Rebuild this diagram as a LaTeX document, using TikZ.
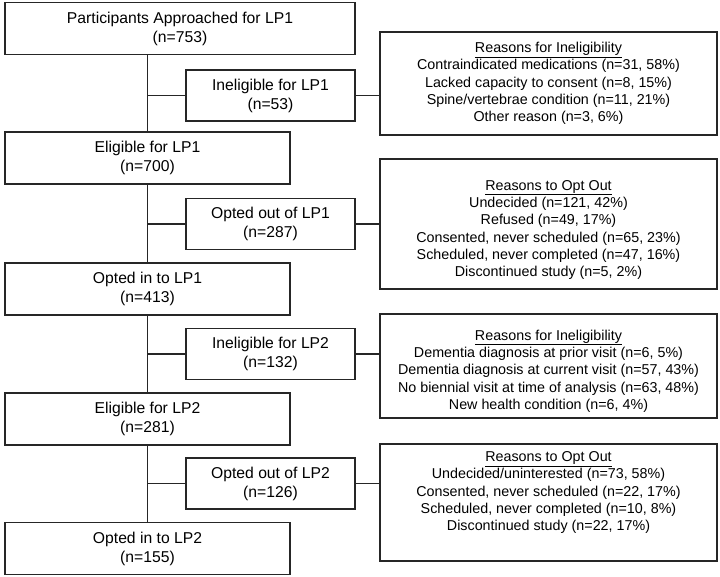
\documentclass[tikz,border=0pt]{standalone}
\usepackage{fontspec}
\setmainfont{Liberation Sans}
\begin{document}
\begin{tikzpicture}[x=1pt,y=-1pt,
		box/.style={draw=black!85, line width=1.1pt, align=center, inner sep=0pt, font=\fontsize{15.7}{19}\selectfont},
		flow/.style={box, minimum width=285pt, minimum height=52pt},
		side/.style={box, minimum width=169pt, minimum height=51pt},
		why/.style={box, minimum width=337pt},
		reasons/.style={align=center, inner sep=0pt, font=\fontsize{14.3}{17.3}\selectfont},
		link/.style={draw=black!85, line width=1.1pt}]
		\useasboundingbox (0,0) rectangle (720,577);
		% main flow
		\node[flow, minimum width=350pt] (appr) at (180,28.5) {Participants Approached for LP1\\(n=753)};
		\node[flow] (elig1) at (147.5,158) {Eligible for LP1\\(n=700)};
		\node[flow] (optin1) at (147.5,289) {Opted in to LP1\\(n=413)};
		\node[flow] (elig2) at (147.5,419) {Eligible for LP2\\(n=281)};
		\node[flow] (optin2) at (147.5,548.5) {Opted in to LP2\\(n=155)};
		% exclusions
		\node[side] (inel1) at (270.5,95.5) {Ineligible for LP1\\(n=53)};
		\node[side] (optout1) at (270.5,224) {Opted out of LP1\\(n=287)};
		\node[side] (inel2) at (270.5,354) {Ineligible for LP2\\(n=132)};
		\node[side] (optout2) at (270.5,483.5) {Opted out of LP2\\(n=126)};
		% reasons
		\node[why, minimum height=103pt] (why1) at (548.5,83.5) {};
		\node[reasons] (why1txt) at (why1) {\underline{Reasons for Ineligibility}\\Contraindicated medications (n=31, 58\%)\\Lacked capacity to consent (n=8, 15\%)\\Spine/vertebrae condition (n=11, 21\%)\\Other reason (n=3, 6\%)};
		\node[why, minimum height=130pt] (why2) at (548.5,224) {};
		\node[reasons] (why2txt) at ([yshift=-6pt]why2.center) {\underline{Reasons to Opt Out}\\Undecided (n=121, 42\%)\\Refused (n=49, 17\%)\\Consented, never scheduled (n=65, 23\%)\\Scheduled, never completed (n=47, 16\%)\\Discontinued study (n=5, 2\%)};
		\node[why, minimum height=104pt] (why3) at (548.5,366) {};
		\node[reasons] (why3txt) at ([yshift=-5pt]why3.center) {\underline{Reasons for Ineligibility}\\Dementia diagnosis at prior visit (n=6, 5\%)\\Dementia diagnosis at current visit (n=57, 43\%)\\No biennial visit at time of analysis (n=63, 48\%)\\New health condition (n=6, 4\%)};
		\node[why, minimum height=117pt] (why4) at (548.5,502.5) {};
		\node[reasons] (why4txt) at ([yshift=10pt]why4.center) {\underline{Reasons to Opt Out}\\Undecided/uninterested (n=73, 58\%)\\Consented, never scheduled (n=22, 17\%)\\Scheduled, never completed (n=10, 8\%)\\Discontinued study (n=22, 17\%)};
		% connectors
		\draw[link] (appr.south -| elig1) -- (elig1.north);
		\draw[link] (elig1.south) -- (optin1.north);
		\draw[link] (optin1.south) -- (elig2.north);
		\draw[link] (elig2.south) -- (optin2.north);
		\draw[link] (inel1.west) -- (inel1.west -| elig1);
		\draw[link] (optout1.west) -- (optout1.west -| elig1);
		\draw[link] (inel2.west) -- (inel2.west -| elig1);
		\draw[link] (optout2.west) -- (optout2.west -| elig1);
		\draw[link] (inel1.east) -- (inel1.east -| why1.west);
		\draw[link] (optout1.east) -- (optout1.east -| why2.west);
		\draw[link] (inel2.east) -- (inel2.east -| why3.west);
		\draw[link] (optout2.east) -- (optout2.east -| why4.west);
	\end{tikzpicture}
\end{document}
